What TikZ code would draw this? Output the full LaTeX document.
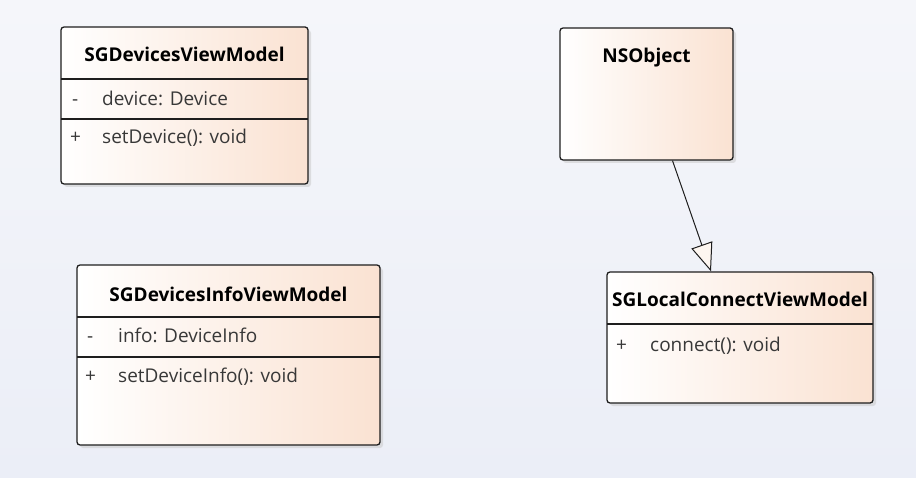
\documentclass[tikz,border=0pt]{standalone}
\usepackage{fontspec}
\setmainfont{Open Sans}
\usetikzlibrary{arrows.meta,shadows}
\definecolor{peach}{HTML}{FAE2D2}
\definecolor{cream}{HTML}{FDF6F0}
\definecolor{bgtop}{HTML}{F5F6FA}
\definecolor{bgbot}{HTML}{EBEEF7}
\definecolor{edge}{HTML}{1E1E1E}
\tikzset{
	classbox/.style={draw=edge, line width=1.3pt, rounded corners=3pt, left color=white, right color=peach,
		drop shadow={shadow xshift=3pt, shadow yshift=-3pt, fill=black!22}},
	ctitle/.style={anchor=base, inner sep=0pt, font=\fontsize{19}{23}\selectfont\bfseries},
	cmember/.style={anchor=base west, inner sep=0pt, text=black!78, font=\fontsize{19}{23}\selectfont},
	csep/.style={draw=edge, line width=1.3pt},
	genarrow/.style={draw=edge, line width=1pt, -{Triangle[open, length=28pt, width=22pt, fill=cream]}}
}
\begin{document}
\begin{tikzpicture}[x=1pt,y=-1pt]
	
	\fill[top color=bgtop, bottom color=bgbot] (0,0) rectangle (916,478);
	\useasboundingbox (0,0) rectangle (916,478);
	
	% SGDevicesViewModel
	\node[classbox, minimum width=247pt, minimum height=157pt] (devVM) at (184.5,105.5) {};
	\node[ctitle] (devVMname) at (184.5,62) {SGDevicesViewModel};
	\draw[csep] (61,79) -- (308,79);
	\node[cmember] (devVMattrvis) at (72,106) {-};
	\node[cmember] (devVMattr) at (102,106) {device: Device};
	\draw[csep] (61,119) -- (308,119);
	\node[cmember] (devVMopvis) at (70,144) {+};
	\node[cmember] (devVMop) at (102,144) {setDevice(): void};
	
	% SGDevicesInfoViewModel
	\node[classbox, minimum width=303pt, minimum height=180pt] (infoVM) at (228.5,355) {};
	\node[ctitle] (infoVMname) at (228.5,302) {SGDevicesInfoViewModel};
	\draw[csep] (77,317) -- (380,317);
	\node[cmember] (infoVMattrvis) at (87,343) {-};
	\node[cmember] (infoVMattr) at (118,343) {info: DeviceInfo};
	\draw[csep] (77,357) -- (380,357);
	\node[cmember] (infoVMopvis) at (85,383) {+};
	\node[cmember] (infoVMop) at (118,383) {setDeviceInfo(): void};
	
	% NSObject
	\node[classbox, minimum width=173pt, minimum height=132pt] (nsobj) at (646.5,94) {};
	\node[ctitle] (nsobjname) at (646.5,63) {NSObject};
	
	% SGLocalConnectViewModel
	\node[classbox, minimum width=266pt, minimum height=131pt] (localVM) at (740,337.5) {};
	\node[ctitle] (localVMname) at (740,307) {SGLocalConnectViewModel};
	\draw[csep] (607,324) -- (873,324);
	\node[cmember] (localVMopvis) at (616,352) {+};
	\node[cmember] (localVMop) at (650,352) {connect(): void};
	
	\draw[genarrow] ([xshift=26pt]nsobj.south) -- ([xshift=-29pt]localVM.north);
	
\end{tikzpicture}
\end{document}
